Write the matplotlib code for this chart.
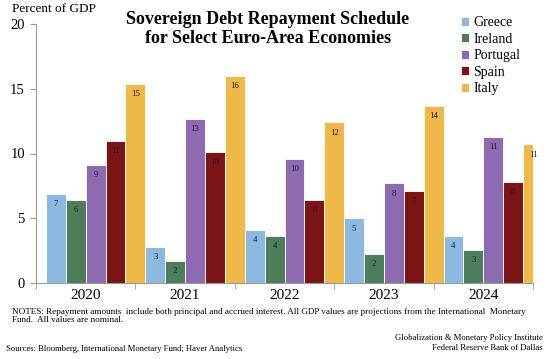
import numpy as np
from matplotlib import pyplot as plt

plt.rcParams['font.family'] = ['Liberation Serif', 'DejaVu Serif']

years = ["2020", "2021", "2022", "2023", "2024"]
countries = ["Greece", "Ireland", "Portugal", "Spain", "Italy"]
greece = [6.9, 2.8, 4.1, 5.0, 3.65]
ireland = [6.4, 1.7, 3.65, 2.25, 2.55]
portugal = [9.15, 12.7, 9.6, 7.7, 11.3]
spain = [11.0, 10.15, 6.4, 7.1, 7.8]
italy = [15.4, 16.0, 12.4, 13.7, 10.7]
colors = ["#8db9e0", "#4d7d5a", "#8e6bb0", "#7b1416", "#efb84a"]

series = [greece, ireland, portugal, spain, italy]

fig = plt.figure(figsize=(5.55, 3.59), dpi=100)
ax = fig.add_axes([36 / 555, 1 - 283 / 359, (533 - 36) / 555, (283 - 24) / 359])

x = np.arange(len(years))
w = 0.2
for i, (name, vals) in enumerate(zip(countries, series)):
    pos = x - 0.4 + w * (i + 0.5)
    bars = ax.bar(pos, vals, width=w, color=colors[i], edgecolor="white",
                  linewidth=0.6, label=name)
    for b, v in zip(bars, vals):
        ax.text(b.get_x() + b.get_width() / 2, v - 0.8, f"{v:.0f}",
                ha="center", va="center", fontsize=6.3, color="#1a1a2e")

ax.set_xlim(-0.5, len(years) - 0.5)
ax.set_ylim(0, 20)
ax.set_yticks([0, 5, 10, 15, 20])
ax.tick_params(axis="y", labelsize=10.5, length=4, color="#999999", pad=4)
ax.set_xticks(x)
ax.set_xticklabels(years, fontsize=11)
ax.tick_params(axis="x", length=0, pad=4)
ax.set_xticks(np.arange(-0.5, len(years)), minor=True)
ax.tick_params(axis="x", which="minor", length=4, color="#999999")
for s in ["top", "right"]:
    ax.spines[s].set_visible(False)
ax.spines["left"].set_color("#999999")
ax.spines["bottom"].set_color("#999999")

ax.legend(loc="upper left", bbox_to_anchor=(0.83, 1.078), frameon=False,
          fontsize=10, handlelength=0.6, handleheight=0.6, handletextpad=0.3,
          labelspacing=0.25)

fig.text(12 / 555, 1 - 9 / 359, "Percent of GDP", fontsize=9.5, va="center")
fig.text(268 / 555, 1 - 29 / 359,
         "Sovereign Debt Repayment Schedule\nfor Select Euro-Area Economies",
         fontsize=13, fontweight="bold", ha="center", va="center", linespacing=1.2)
fig.text(12 / 555, 1 - 316 / 359,
         "NOTES: Repayment amounts  include both principal and accrued interest. All GDP values are projections from the International  Monetary\nFund.  All values are nominal.",
         fontsize=6.6, va="center", linespacing=1.15)
fig.text(6 / 555, 1 - 349 / 359,
         "Sources: Bloomberg, International Monetary Fund; Haver Analytics",
         fontsize=6.2, va="center")
fig.text(543 / 555, 1 - 343 / 359,
         "Globalization & Monetary Policy Institute\nFederal Reserve Bank of Dallas",
         fontsize=6.2, va="center", ha="right", linespacing=1.2)

plt.savefig("out.png", dpi=100)
plt.close()
